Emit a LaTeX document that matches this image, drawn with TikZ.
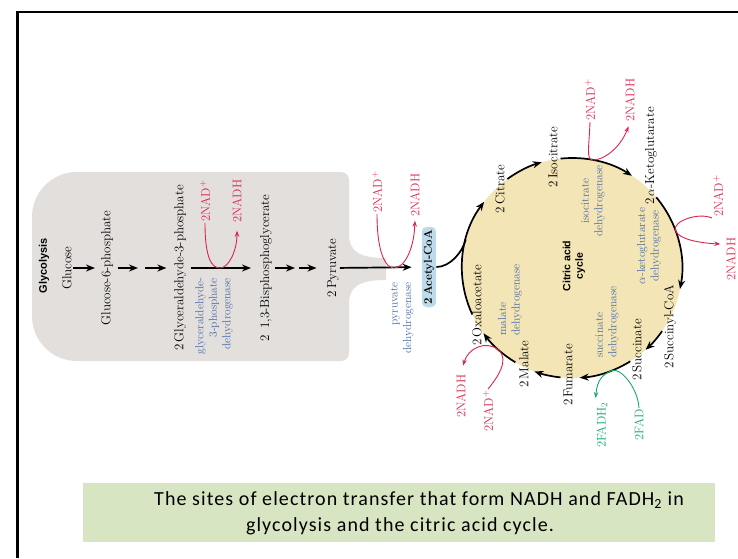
\documentclass[tikz,border=0pt]{standalone}
\usepackage{fontspec}
\newfontfamily\capfont[LetterSpace=5.5]{Carlito}
\newfontfamily\hvfont{Liberation Sans}
\usetikzlibrary{arrows.meta,calc}

\definecolor{glyco}{RGB}{226,223,221}
\definecolor{cycfill}{RGB}{243,229,181}
\definecolor{acoafill}{RGB}{189,219,235}
\definecolor{capfill}{RGB}{216,229,194}
\definecolor{nadred}{RGB}{218,37,76}
\definecolor{enzblue}{RGB}{72,108,168}
\definecolor{fadgreen}{RGB}{22,168,112}

\begin{document}
\begin{tikzpicture}[x=1pt,y=-1pt,
  met/.style={rotate=90, inner sep=1pt, font=\fontsize{13}{15}\selectfont},
  enz/.style={rotate=90, inner sep=1pt, text=enzblue, font=\fontsize{11.5}{13.5}\selectfont},
  cof/.style={rotate=90, inner sep=1pt, text=nadred, font=\fontsize{12.5}{14}\selectfont},
  fadlbl/.style={cof, text=fadgreen},
  head/.style={rotate=90, inner sep=1pt, font=\hvfont\bfseries\fontsize{11}{12.5}\selectfont},
  flow/.style={line width=1.7pt, -{Stealth[length=9pt,width=7pt]}},
  redox/.style={line width=0.9pt, nadred, -{Stealth[length=6pt,width=4.5pt]}},
  fadox/.style={redox, fadgreen},
  capline/.style={inner sep=0pt, font=\capfont\fontsize{20}{25}\selectfont},
]
\useasboundingbox (0,0) rectangle (738,558);

% frame
\draw[line width=2.5pt] (17.5,558) -- (17.5,12) -- (738,12);

% glycolysis backdrop with funnel towards pyruvate dehydrogenase
\fill[glyco] (77,172) -- (340,172) .. controls (346,172) and (349,175) .. (349,181)
  -- (349,234) .. controls (349,252) and (360,258) .. (386,258) -- (386,280)
  .. controls (360,280) and (349,286) .. (349,304) -- (349,352)
  .. controls (349,358) and (346,361) .. (340,361) -- (77,361)
  .. controls (52,361) and (32,341) .. (32,316) -- (32,217)
  .. controls (32,192) and (52,172) .. (77,172) -- cycle;

% citric acid cycle disc
\node[circle, fill=cycfill, minimum size=220pt, inner sep=0pt, outer sep=0pt] (cyc) at (572,268) {};

% glycolysis metabolites
\node[head] (glyhead) at (44,266) {Glycolysis};
\node[met] (glc) at (67,268) {Glucose};
\node[met] (g6p) at (107,268) {Glucose-6-phosphate};
\node[met] (gap) at (180,268) {2\,Glyceraldehyde-3-phosphate};
\node[met] (bpg) at (266,268) {2\enspace1,3-Bisphosphoglycerate};
\node[met] (pyr) at (333,268) {2\,Pyruvate};
\node[met, font=\bfseries\fontsize{11.5}{13}\selectfont, fill=acoafill, rounded corners=5pt,
      inner xsep=3pt, inner ysep=2pt] (acoa) at (429,267) {2\,Acetyl-CoA};

\coordinate (s1) at (141,268);
\coordinate (s2) at (297,268);
\draw[flow, shorten >=5pt] (glc) -- (g6p);
\draw[flow, shorten <=3.5pt, shorten >=3pt] (g6p) -- (s1);
\draw[flow, shorten <=4pt, shorten >=6.5pt] (s1) -- (gap);
\draw[flow, shorten <=3.5pt, shorten >=8pt] (gap) -- (bpg);
\draw[flow, shorten <=1.5pt, shorten >=2pt] (bpg) -- (s2);
\draw[flow, shorten <=2pt, shorten >=9.5pt] (s2) -- (pyr);
\draw[flow, shorten >=10pt] (pyr) -- (acoa);

% glycolysis enzymes and cofactors
\node[enz, align=right] (gapdh) at (214,316) {glyceraldehyde-\\3-phosphate\\dehydrogenase};
\node[enz, align=right] (pdh) at (402,318) {pyruvate\\dehydrogenase};
\node[cof] (gnad) at (205,201) {2NAD$^+$};
\node[cof] (gnadh) at (237,201) {2NADH};
\node[cof] (pnad) at (377,192) {2NAD$^+$};
\node[cof] (pnadh) at (415,195) {2NADH};
\coordinate (gtouch) at (220,268);
\coordinate (ptouch) at (394,268);
\draw[redox, shorten >=7pt] (gnad.west) .. controls +(0,36) and (212,268) .. (gtouch)
  .. controls (229,268) and (237,250) .. (gnadh.west);
\draw[redox, shorten >=3pt] (pnad.west) .. controls +(0,40) and (386,268) .. (ptouch)
  .. controls (404,268) and (414,250) .. (pnadh.west);

% cycle metabolites
\node[met] (oaa) at (477,305) {2\,Oxaloacetate};
\node[met] (cit) at (500,189) {2\,Citrate};
\node[met] (icit) at (553,157) {2\,Isocitrate};
\node[met] (akg) at (651,156) {2\,$\alpha$-Ketoglutarate};
\node[met] (scoa) at (670,327) {2\,Succinyl-CoA};
\node[met] (succ) at (637,350) {2\,Succinate};
\node[met] (fum) at (568,375) {2\,Fumarate};
\node[met] (mal) at (524,364) {2\,Malate};
\node[head, align=center, font=\hvfont\bfseries\fontsize{10.5}{12.5}\selectfont] (cychead) at (574,266) {Citric acid\\cycle};

% cycle steps, clockwise
\draw[flow] (cyc.205) arc[start angle=-205, end angle=-143, radius=110];
\draw[line width=1.7pt] (acoa.south) .. controls +(14,0) and ($(cyc.165)+(-3,12)$) .. (cyc.165);
\draw[flow] (cyc.126) arc[start angle=-126, end angle=-106, radius=110];
\draw[flow] (cyc.96) arc[start angle=-96, end angle=-57, radius=110];
\draw[flow] (cyc.40) arc[start angle=-40, end angle=11, radius=110];
\draw[flow] (cyc.-35) arc[start angle=35, end angle=48, radius=110];
\draw[flow] (cyc.-58) arc[start angle=58, end angle=86, radius=110];
\draw[flow] (cyc.-96) arc[start angle=96, end angle=110, radius=110];
\draw[flow] (cyc.-121) arc[start angle=121, end angle=143.6, radius=110];

% cycle enzymes
\node[enz, align=center] (idh) at (593,201) {isocitrate\\dehydrogenase};
\node[enz, align=center] (akgdh) at (649,246) {$\alpha$-ketoglutarate\\dehydrogenase};
\node[enz, align=left] (sdh) at (607,322) {succinate\\dehydrogenase};
\node[enz, align=left] (mdh) at (510,300) {malate\\dehydrogenase};

% cycle cofactors
\node[cof] (inad) at (590,100) {2NAD$^+$};
\node[cof] (inadh) at (630,100) {2NADH};
\node[cof] (knad) at (718,196) {2NAD$^+$};
\node[cof] (knadh) at (731,259) {2NADH};
\node[cof] (mnadh) at (461,396) {2NADH};
\node[cof] (mnad) at (488,411) {2NAD$^+$};
\node[fadlbl] (fadh2) at (602,425) {2FADH$_2$};
\node[fadlbl] (fad) at (639,425) {2FAD};

\coordinate (itouch) at (cyc.79);
\coordinate (ktouch) at (cyc.20);
\coordinate (mtouch) at (cyc.228);
\coordinate (stouch) at (cyc.-69);
\draw[redox, shorten >=4pt] (inad.west) .. controls (589,148) and (586,160) .. (itouch)
  .. controls (604,160) and (620,148) .. (inadh.west);
\draw[redox, shorten >=5pt] (knad.north west) .. controls (698,212) and ($(ktouch)+(-3,-9)$) .. (ktouch)
  .. controls ($(ktouch)+(3,9)$) and (700,243) .. ($(knadh.north east)+(0,8)$);
\draw[redox, shorten >=8pt] (mnad.east) .. controls (497,378) and (510,360) .. (mtouch)
  .. controls (486,340) and (468,348) .. (mnadh.east);
\draw[fadox, shorten >=3pt] (fad.east) .. controls (638,388) and ($(stouch)+(9,-4)$) .. (stouch)
  .. controls ($(stouch)+(-9,4)$) and (597,380) .. (fadh2.north east);

% caption
\node[fill=capfill, minimum width=632pt, minimum height=59pt, inner sep=0pt] (capbox) at (399,512.5) {};
\node[capline] (cap1) at (419,500) {The sites of electron transfer that form NADH and FADH\textsubscript{2} in};
\node[capline] (cap2) at (400,526) {glycolysis and the citric acid cycle.};
\end{tikzpicture}
\end{document}
